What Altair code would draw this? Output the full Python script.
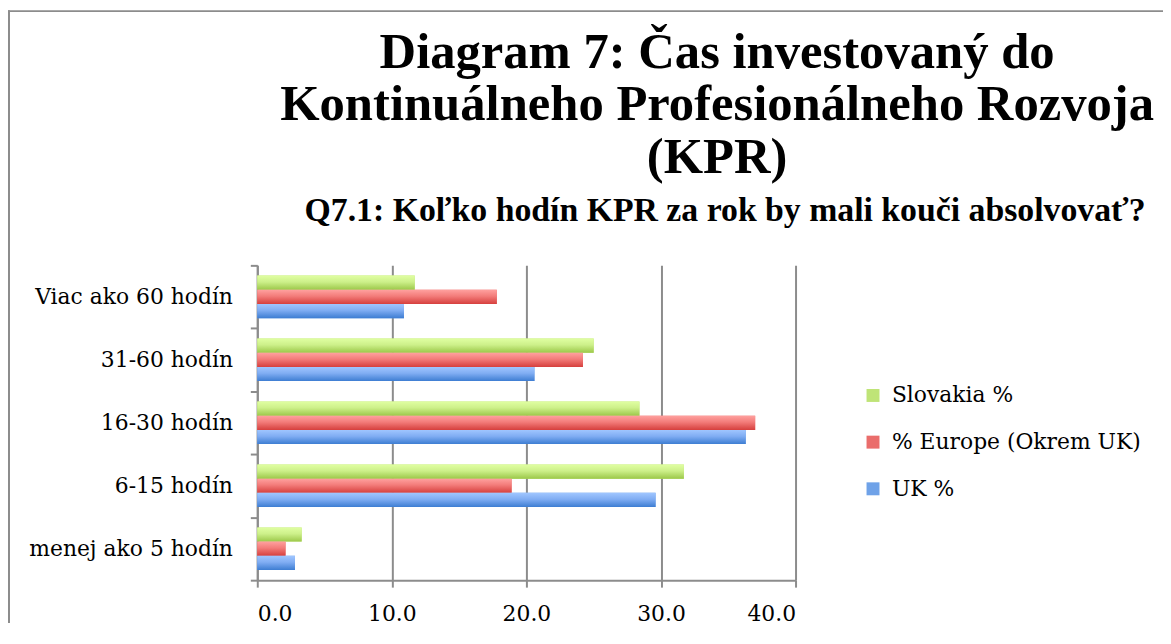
import altair as alt
import pandas as pd

categories = ["Viac ako 60 hodín", "31-60 hodín", "16-30 hodín", "6-15 hodín", "menej ako 5 hodín"]
series_names = ["Slovakia %", "% Europe (Okrem UK)", "UK %"]
slovakia = [11.7, 25.0, 28.4, 31.7, 3.3]
europe = [17.8, 24.2, 37.0, 18.9, 2.1]
uk = [10.9, 20.6, 36.3, 29.6, 2.8]
x_ticks = [0, 10, 20, 30, 40]
title_lines = ["Diagram 7: Čas investovaný do", "Kontinuálneho Profesionálneho Rozvoja", "(KPR)"]
subtitle_text = "Q7.1: Koľko hodín KPR za rok by mali kouči absolvovať?"

rows = []
for vals, name in zip([slovakia, europe, uk], series_names):
    for c, v in zip(categories, vals):
        rows.append({"category": c, "series": name, "value": v})
df = pd.DataFrame(rows)

solid = ["#bfe477", "#ea6d6b", "#6fa2e8"]


def grad(top, mid, bottom):
    return {
        "gradient": "linear", "x1": 0, "y1": 0, "x2": 0, "y2": 1,
        "stops": [
            {"offset": 0, "color": top},
            {"offset": 0.45, "color": mid},
            {"offset": 1, "color": bottom},
        ],
    }


g_green = grad("#e0ffa2", "#cdf08a", "#9cc84a")
g_red = grad("#ffa19f", "#f37c7a", "#d6403e")
g_blue = grad("#a0c6ff", "#80adf3", "#3d7dd2")

GRID = "#8c8c8c"
SERIF = "DejaVu Serif"
TITLE_FONT = "Liberation Serif"

base = alt.Chart(df).encode(
    x=alt.X(
        "value:Q",
        scale=alt.Scale(domain=[0, 40], nice=False),
        axis=alt.Axis(
            values=x_ticks, format=".1f", title=None, grid=True,
            gridColor=GRID, gridWidth=2, domainColor=GRID, domainWidth=2,
            tickColor=GRID, tickWidth=2, tickSize=7,
            labelFont=SERIF, labelFontSize=22, labelColor="black", labelPadding=17,
        ),
    ),
    y=alt.Y(
        "category:N",
        sort=categories,
        scale=alt.Scale(paddingInner=0, paddingOuter=0),
        axis=alt.Axis(
            title=None, tickBand="extent", grid=False, labelLimit=400,
            domainColor=GRID, domainWidth=2, tickColor=GRID, tickWidth=2, tickSize=7,
            labelFont=SERIF, labelFontSize=22, labelColor="black", labelPadding=18,
        ),
    ),
    yOffset=alt.YOffset(
        "series:N", sort=series_names,
        scale=alt.Scale(paddingInner=0, paddingOuter=0.716),
    ),
)

legend_bars = base.mark_bar().encode(
    fill=alt.Fill(
        "series:N",
        scale=alt.Scale(domain=series_names, range=solid),
        legend=alt.Legend(
            title=None, orient="none", legendX=609, legendY=120,
            symbolType="square", symbolSize=170, symbolStrokeWidth=0,
            labelFont=SERIF, labelFontSize=22, labelColor="black", labelLimit=400,
            rowPadding=25, labelOffset=8, padding=0,
        ),
    ),
)

grad_bars = base.mark_bar().encode(
    fill={
        "condition": [
            {"test": "datum.series === 'Slovakia %'", "value": g_green},
            {"test": "datum.series === '% Europe (Okrem UK)'", "value": g_red},
        ],
        "value": g_blue,
    },
)

one = alt.Data(values=[{"k": 0}])
left_line = alt.Chart(one).mark_rule(color=GRID, strokeWidth=2).encode(
    x=alt.value(-250), y=alt.value(-257), y2=alt.value(360)
)
top_line = alt.Chart(one).mark_rule(color=GRID, strokeWidth=2).encode(
    x=alt.value(-251), x2=alt.value(920), y=alt.value(-256)
)
title_text = alt.Chart(one).mark_text(
    font=TITLE_FONT, fontSize=51, fontWeight="bold", align="center",
    baseline="alphabetic", lineHeight=53, color="black",
).encode(x=alt.value(463), y=alt.value(-199), text=alt.value(title_lines))
subtitle = alt.Chart(one).mark_text(
    font=TITLE_FONT, fontSize=34, fontWeight="bold", align="center",
    baseline="alphabetic", color="black",
).encode(x=alt.value(471), y=alt.value(-45), text=alt.value(subtitle_text))

chart = alt.layer(legend_bars, grad_bars, left_line, top_line, title_text, subtitle).properties(
    width=542,
    height=317,
    padding={"left": 251, "top": 257, "right": 370, "bottom": 46},
    autosize=alt.AutoSizeParams(type="none"),
    background="white",
).configure_view(stroke=None)

chart.save("out.html", embed_options={"renderer": "svg", "actions": False})
